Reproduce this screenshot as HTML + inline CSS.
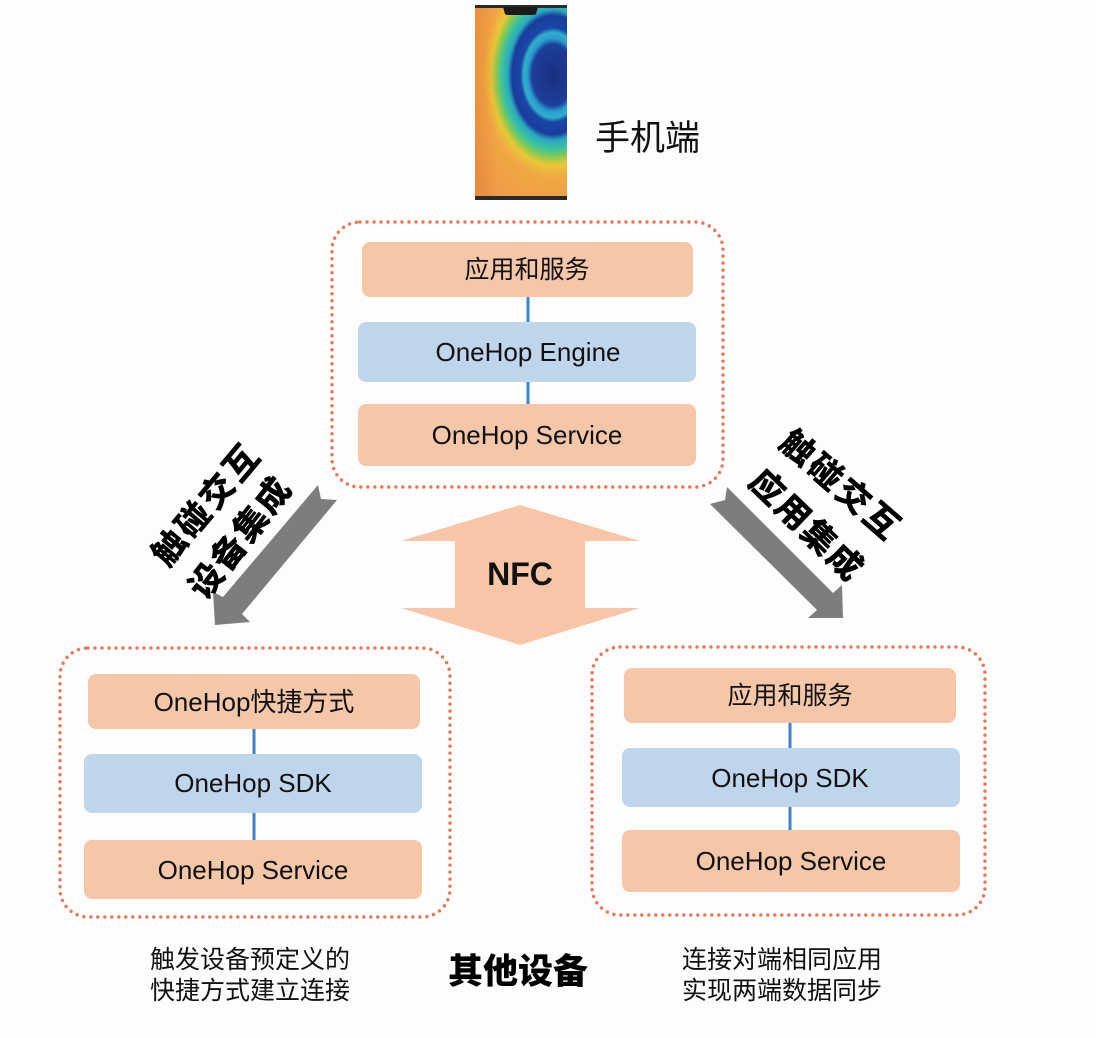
<!DOCTYPE html>
<html>
<head>
<meta charset="utf-8">
<style>
html,body{margin:0;padding:0;background:#fdfdfd;}
body{width:1096px;height:1038px;overflow:hidden;position:relative;}
svg{position:absolute;left:0;top:0;}
.cn{font-family:"Liberation Sans","Noto Sans CJK SC",sans-serif;}
</style>
</head>
<body>
<svg width="1096" height="1038" viewBox="0 0 1096 1038" xmlns="http://www.w3.org/2000/svg">
  <defs>
    <radialGradient id="rg" gradientUnits="userSpaceOnUse" cx="553" cy="75" r="105" gradientTransform="translate(553 75) scale(1 1.45) translate(-553 -75)">
      <stop offset="0" stop-color="#1a2f80"/>
      <stop offset="0.2" stop-color="#1c3f9a"/>
      <stop offset="0.24" stop-color="#2a9ad0"/>
      <stop offset="0.28" stop-color="#30b0c8"/>
      <stop offset="0.31" stop-color="#1a46a8"/>
      <stop offset="0.39" stop-color="#1a3c9c"/>
      <stop offset="0.43" stop-color="#2aa8c0"/>
      <stop offset="0.49" stop-color="#3ec49a"/>
      <stop offset="0.54" stop-color="#8cc850"/>
      <stop offset="0.59" stop-color="#e8c838"/>
      <stop offset="0.67" stop-color="#f2a844"/>
      <stop offset="1" stop-color="#eb9a48"/>
    </radialGradient>
    <linearGradient id="lg" x1="0" y1="0" x2="1" y2="0">
      <stop offset="0" stop-color="#e06a30" stop-opacity="0.35"/>
      <stop offset="0.25" stop-color="#e06a30" stop-opacity="0"/>
      <stop offset="1" stop-color="#e06a30" stop-opacity="0"/>
    </linearGradient>
  </defs>

  <!-- Phone -->
  <rect x="475" y="5" width="92" height="195" fill="url(#rg)"/>
  <rect x="475" y="5" width="92" height="195" fill="url(#lg)"/>
  <rect x="475" y="5" width="92" height="3" fill="#2a2a2a"/>
  <rect x="475" y="196" width="92" height="4" fill="#2a2a2a"/>
  <path d="M503 7 L538 7 L536 14 Q535 15 533 15 L508 15 Q506 15 505 14 Z" fill="#1a1a1a"/>
  <text x="595" y="150" class="cn" font-size="35" fill="#111">手机端</text>

  <!-- Top container -->
  <rect x="332" y="222" width="391" height="265" rx="28" ry="28" fill="none" stroke="#e57a5a" stroke-width="3.5" stroke-linecap="round" stroke-dasharray="0 7"/>
  <rect x="362" y="242" width="331" height="55" rx="8" fill="#f5c7a9"/>
  <line x1="528" y1="297" x2="528" y2="322" stroke="#3c84c6" stroke-width="3"/>
  <rect x="358" y="322" width="338" height="60" rx="8" fill="#bfd5ec"/>
  <line x1="528" y1="382" x2="528" y2="404" stroke="#3c84c6" stroke-width="3"/>
  <rect x="358" y="404" width="338" height="62" rx="8" fill="#f5c7a9"/>
  <text x="527" y="270" class="cn" font-size="25" fill="#111" text-anchor="middle" dominant-baseline="central">应用和服务</text>
  <text x="528" y="352" class="cn" font-size="26" fill="#111" text-anchor="middle" dominant-baseline="central">OneHop Engine</text>
  <text x="527" y="435" class="cn" font-size="26" fill="#111" text-anchor="middle" dominant-baseline="central">OneHop Service</text>

  <!-- NFC arrow -->
  <polygon points="520,505 640,541 585,541 585,608 640,608 520,645 401,608 455,608 455,541 401,541" fill="#f7c6a6"/>
  <text x="520" y="574" font-family="Liberation Sans, sans-serif" font-weight="bold" font-size="32" fill="#111" text-anchor="middle" dominant-baseline="central">NFC</text>

  <!-- Left gray arrow -->
  <polygon points="318,485 223,597 213,592 215,625 250,622 242,614 337,500 321,499" fill="#7d7d7d"/>
  <!-- Right gray arrow -->
  <polygon points="727,487 833,593 842,585 843,618 808,618 817,610 710,504 725,500" fill="#7d7d7d"/>

  <!-- Rotated labels -->
  <text x="207" y="505" class="cn" font-size="34" font-weight="900" letter-spacing="3" fill="#000" text-anchor="middle" dominant-baseline="central" transform="rotate(-50 207 505)">触碰交互</text>
  <text x="241" y="538" class="cn" font-size="34" font-weight="900" letter-spacing="2" fill="#000" text-anchor="middle" dominant-baseline="central" transform="rotate(-52 241 538)">设备集成</text>
  <text x="840" y="486" class="cn" font-size="34" font-weight="900" letter-spacing="3" fill="#000" text-anchor="middle" dominant-baseline="central" transform="rotate(41 840 486)">触碰交互</text>
  <text x="806" y="526" class="cn" font-size="34" font-weight="900" letter-spacing="2" fill="#000" text-anchor="middle" dominant-baseline="central" transform="rotate(44 806 526)">应用集成</text>

  <!-- Left bottom container -->
  <rect x="60" y="648" width="390" height="269" rx="28" ry="28" fill="none" stroke="#e57a5a" stroke-width="3.5" stroke-linecap="round" stroke-dasharray="0 7"/>
  <rect x="88" y="674" width="332" height="55" rx="8" fill="#f5c7a9"/>
  <line x1="254" y1="729" x2="254" y2="754" stroke="#3c84c6" stroke-width="3"/>
  <rect x="84" y="754" width="338" height="59" rx="8" fill="#bfd5ec"/>
  <line x1="254" y1="813" x2="254" y2="840" stroke="#3c84c6" stroke-width="3"/>
  <rect x="84" y="840" width="338" height="59" rx="8" fill="#f5c7a9"/>
  <text x="254" y="702" class="cn" font-size="26" fill="#111" text-anchor="middle" dominant-baseline="central">OneHop快捷方式</text>
  <text x="253" y="783" class="cn" font-size="26" fill="#111" text-anchor="middle" dominant-baseline="central">OneHop SDK</text>
  <text x="253" y="870" class="cn" font-size="26" fill="#111" text-anchor="middle" dominant-baseline="central">OneHop Service</text>

  <!-- Right bottom container -->
  <rect x="592" y="647" width="393" height="268" rx="28" ry="28" fill="none" stroke="#e57a5a" stroke-width="3.5" stroke-linecap="round" stroke-dasharray="0 7"/>
  <rect x="624" y="668" width="332" height="55" rx="8" fill="#f5c7a9"/>
  <line x1="790" y1="723" x2="790" y2="748" stroke="#3c84c6" stroke-width="3"/>
  <rect x="622" y="748" width="338" height="59" rx="8" fill="#bfd5ec"/>
  <line x1="790" y1="807" x2="790" y2="830" stroke="#3c84c6" stroke-width="3"/>
  <rect x="622" y="830" width="338" height="62" rx="8" fill="#f5c7a9"/>
  <text x="790" y="696" class="cn" font-size="25" fill="#111" text-anchor="middle" dominant-baseline="central">应用和服务</text>
  <text x="790" y="778" class="cn" font-size="26" fill="#111" text-anchor="middle" dominant-baseline="central">OneHop SDK</text>
  <text x="791" y="861" class="cn" font-size="26" fill="#111" text-anchor="middle" dominant-baseline="central">OneHop Service</text>

  <!-- Bottom captions -->
  <text x="250" y="960" class="cn" font-size="25" fill="#111" text-anchor="middle" dominant-baseline="central">触发设备预定义的</text>
  <text x="250" y="991" class="cn" font-size="25" fill="#111" text-anchor="middle" dominant-baseline="central">快捷方式建立连接</text>
  <text x="518" y="972" class="cn" font-size="35" font-weight="900" fill="#000" text-anchor="middle" dominant-baseline="central">其他设备</text>
  <text x="782" y="960" class="cn" font-size="25" fill="#111" text-anchor="middle" dominant-baseline="central">连接对端相同应用</text>
  <text x="782" y="991" class="cn" font-size="25" fill="#111" text-anchor="middle" dominant-baseline="central">实现两端数据同步</text>
</svg>
</body>
</html>
